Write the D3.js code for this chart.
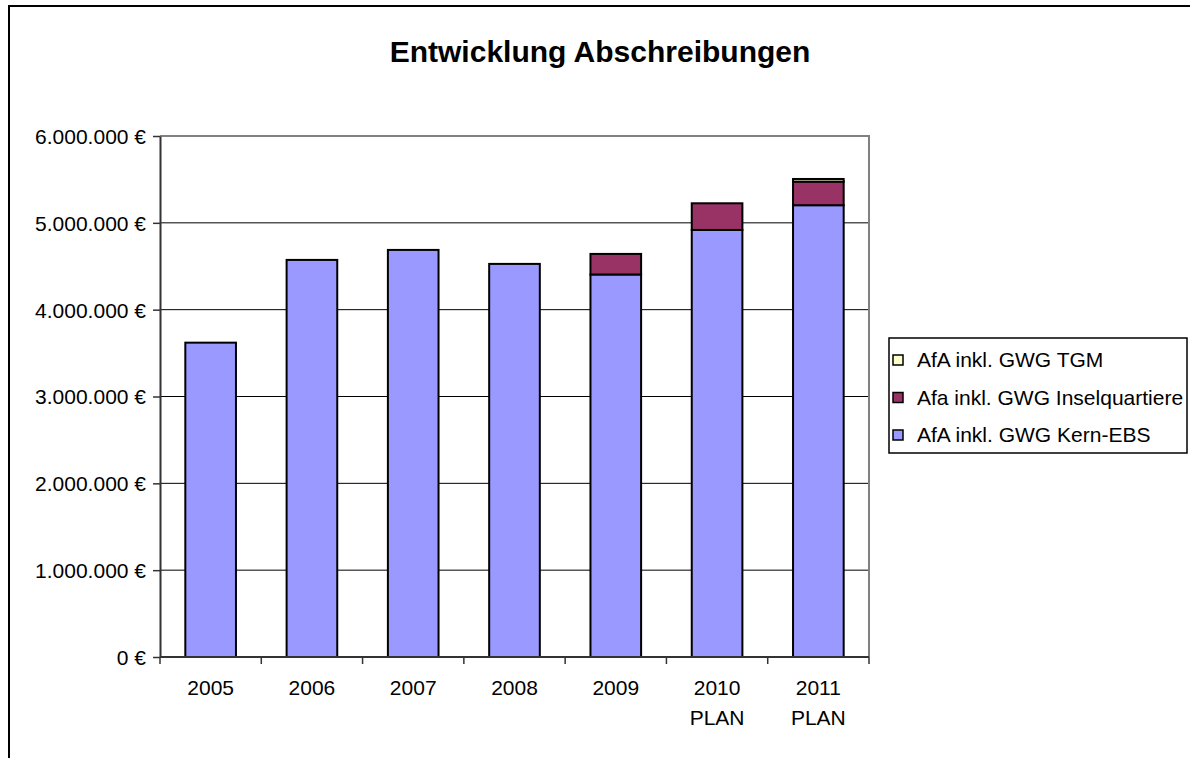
<!DOCTYPE html>
<html><head><meta charset="utf-8">
<script src="https://cdn.jsdelivr.net/npm/d3@7"></script>
<style>body{margin:0;background:#fff}svg{display:block}text{font-family:"Liberation Sans",Arial,sans-serif}</style>
</head><body>
<svg id="c" width="1190" height="758"></svg>
<script>
const categories = ["2005","2006","2007","2008","2009","2010\nPLAN","2011\nPLAN"];
const seriesNames = ["AfA inkl. GWG Kern-EBS","Afa inkl. GWG Inselquartiere","AfA inkl. GWG TGM"];
const kernEBS = [3620000,4573000,4688000,4527000,4405000,4918000,5203000];
const inselquartiere = [0,0,0,0,237000,307000,272000];
const tgm = [0,0,0,0,0,0,30000];
const yTicks = [0,1000000,2000000,3000000,4000000,5000000,6000000];
const colors = ["#9999FF","#993366","#FFFFCC"];

const svg = d3.select("#c");
const fmt = v => d3.format(",.0f")(v).replace(/,/g,".") + " €";
const FS = 21;

// outer frame
svg.append("rect").attr("x",9).attr("y",6).attr("width",1200).attr("height",800)
  .attr("fill","none").attr("stroke","#000").attr("stroke-width",2);

svg.append("text").attr("x",600).attr("y",62).attr("text-anchor","middle")
  .attr("font-size",30).attr("font-weight","bold").text("Entwicklung Abschreibungen");

const L=160,R=869,T=136,B=657;
const x = d3.scaleBand().domain(categories).range([L,R]).paddingInner(0.5).paddingOuter(0.25);
const y = d3.scaleLinear().domain([0,6000000]).range([B,T]);

// gridlines
svg.append("g").selectAll("line").data(yTicks.slice(1,-1)).join("line")
  .attr("x1",L).attr("x2",R).attr("y1",d=>y(d)).attr("y2",d=>y(d)).attr("stroke","#000").attr("stroke-width",1);
// plot area border top/right
svg.append("path").attr("d",`M${L},${T}H${R}V${B}`).attr("fill","none").attr("stroke","#808080").attr("stroke-width",2);

// stacked bars
const rows = categories.map((c,i)=>({cat:c,k:kernEBS[i],i2:inselquartiere[i],t:tgm[i]}));
const stack = d3.stack().keys(["k","i2","t"])(rows);
stack.forEach((s,si)=>{
  svg.append("g").selectAll("rect").data(s.filter(d=>d[1]-d[0]>0)).join("rect")
    .attr("x",d=>x(d.data.cat)).attr("width",x.bandwidth())
    .attr("y",d=>y(d[1])).attr("height",d=>y(d[0])-y(d[1]))
    .attr("fill",colors[si]).attr("stroke","#000").attr("stroke-width",2);
});

// y axis
const ya = svg.append("g").attr("transform",`translate(${L},0)`)
  .call(d3.axisLeft(y).tickValues(yTicks).tickFormat(fmt).tickSize(7).tickSizeOuter(0));
ya.select(".domain").attr("stroke","#333").attr("stroke-width",2);
ya.selectAll(".tick line").attr("stroke","#333").attr("stroke-width",1.5);
ya.selectAll("text").attr("font-size",FS).attr("fill","#000").attr("x",-14).attr("dy","0.35em");

// x axis
const xa = svg.append("g").attr("transform",`translate(0,${B})`);
xa.append("line").attr("x1",L).attr("x2",R).attr("y1",0).attr("y2",0).attr("stroke","#333").attr("stroke-width",2);
const step = x.step();
xa.selectAll("line.t").data(d3.range(categories.length+1)).join("line").attr("class","t")
  .attr("x1",i=>L+i*step).attr("x2",i=>L+i*step).attr("y1",0).attr("y2",7).attr("stroke","#333").attr("stroke-width",1.5);
xa.selectAll("text").data(categories).join("text")
  .attr("x",d=>x(d)+x.bandwidth()/2).attr("y",38).attr("text-anchor","middle").attr("font-size",FS)
  .each(function(d){
    const parts=d.split("\n");
    d3.select(this).selectAll("tspan").data(parts).join("tspan")
      .attr("x",x(d)+x.bandwidth()/2).attr("dy",(p,j)=>j===0?0:30).text(p=>p);
  });

// legend
const lg = svg.append("g");
lg.append("rect").attr("x",889).attr("y",338).attr("width",298).attr("height",115)
  .attr("fill","#fff").attr("stroke","#000").attr("stroke-width",1.5);
const legendOrder=[2,1,0];
legendOrder.forEach((si,j)=>{
  const cy=360+j*37.5;
  lg.append("rect").attr("x",893).attr("y",cy-5).attr("width",10).attr("height",10)
    .attr("fill",colors[si]).attr("stroke","#000").attr("stroke-width",1.5);
  lg.append("text").attr("x",917).attr("y",cy).attr("dy","0.35em").attr("font-size",FS).text(seriesNames[si]);
});
</script>
</body></html>
